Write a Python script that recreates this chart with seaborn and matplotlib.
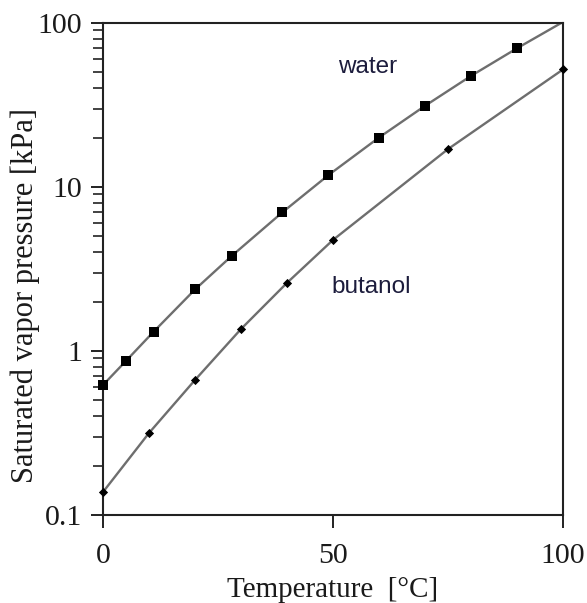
import matplotlib
matplotlib.use("Agg")
import matplotlib.pyplot as plt
import seaborn as sns
import pandas as pd
from matplotlib.ticker import FixedLocator, FixedFormatter, LogLocator, NullFormatter

# Data
water_T = [0, 5, 11, 20, 28, 39, 49, 60, 70, 80, 90]
water_P = [0.62, 0.87, 1.31, 2.37, 3.8, 7.0, 11.8, 20.0, 31.2, 47.5, 70.0]
water_curve_T = water_T + [100]
water_curve_P = water_P + [101.3]

butanol_T = [0, 10, 20, 30, 40, 50, 75, 100]
butanol_P = [0.138, 0.316, 0.665, 1.36, 2.6, 4.75, 17.0, 52.0]

x_ticks = [0, 50, 100]
x_labels = ["0", "50", "100"]
y_ticks = [0.1, 1, 10, 100]
y_labels = ["0.1", "1", "10", "100"]

sns.set_theme(style="ticks")
plt.rcParams["font.family"] = ["Liberation Serif", "DejaVu Serif"]

fig = plt.figure(figsize=(5.87, 6.03), dpi=100)
ax = fig.add_axes([0.1755, 0.146, 0.7835, 0.816])

wc = pd.DataFrame({"T": water_curve_T, "P": water_curve_P})
bc = pd.DataFrame({"T": butanol_T, "P": butanol_P})
wm = pd.DataFrame({"T": water_T, "P": water_P})

sns.lineplot(data=wc, x="T", y="P", ax=ax, color="#6e6e6e", linewidth=1.7)
sns.lineplot(data=bc, x="T", y="P", ax=ax, color="#6e6e6e", linewidth=1.7)
sns.scatterplot(data=wm, x="T", y="P", ax=ax, marker="s", s=60, color="black",
                edgecolor="black", linewidth=0, zorder=5, clip_on=False)
sns.scatterplot(data=bc, x="T", y="P", ax=ax, marker="D", s=22, color="black",
                edgecolor="black", linewidth=0, zorder=5, clip_on=False)

ax.set_yscale("log")
ax.set_xlim(0, 100)
ax.set_ylim(0.1, 100)

ax.xaxis.set_major_locator(FixedLocator(x_ticks))
ax.xaxis.set_major_formatter(FixedFormatter(x_labels))
ax.yaxis.set_major_locator(FixedLocator(y_ticks))
ax.yaxis.set_major_formatter(FixedFormatter(y_labels))
ax.yaxis.set_minor_locator(LogLocator(base=10, subs=range(2, 10)))
ax.yaxis.set_minor_formatter(NullFormatter())

ax.tick_params(axis="both", which="major", direction="out", length=9, width=1.4,
               labelsize=21.5, color="#222222", labelcolor="#1a1a1a", pad=6)
ax.tick_params(axis="y", which="minor", direction="out", length=7, width=1.2, color="#222222")
ax.tick_params(axis="x", which="major", pad=11)
ax.tick_params(top=False, right=False)

for s in ax.spines.values():
    s.set_visible(True)
    s.set_linewidth(1.5)
    s.set_color("#222222")

ax.set_xlabel("Temperature  [°C]", fontsize=21, color="#1a1a1a", labelpad=6)
ax.set_ylabel("Saturated vapor pressure [kPa]", fontsize=22, color="#1a1a1a")
ax.yaxis.set_label_coords(-0.138, 0.447)

ax.text(57.6, 54, "water", fontsize=17.5, family=["Liberation Sans", "DejaVu Sans"],
        ha="center", va="center", color="#1c1c3c")
ax.text(58.3, 2.46, "butanol", fontsize=17.5, family=["Liberation Sans", "DejaVu Sans"],
        ha="center", va="center", color="#1c1c3c")

fig.savefig("out.png", dpi=100)
